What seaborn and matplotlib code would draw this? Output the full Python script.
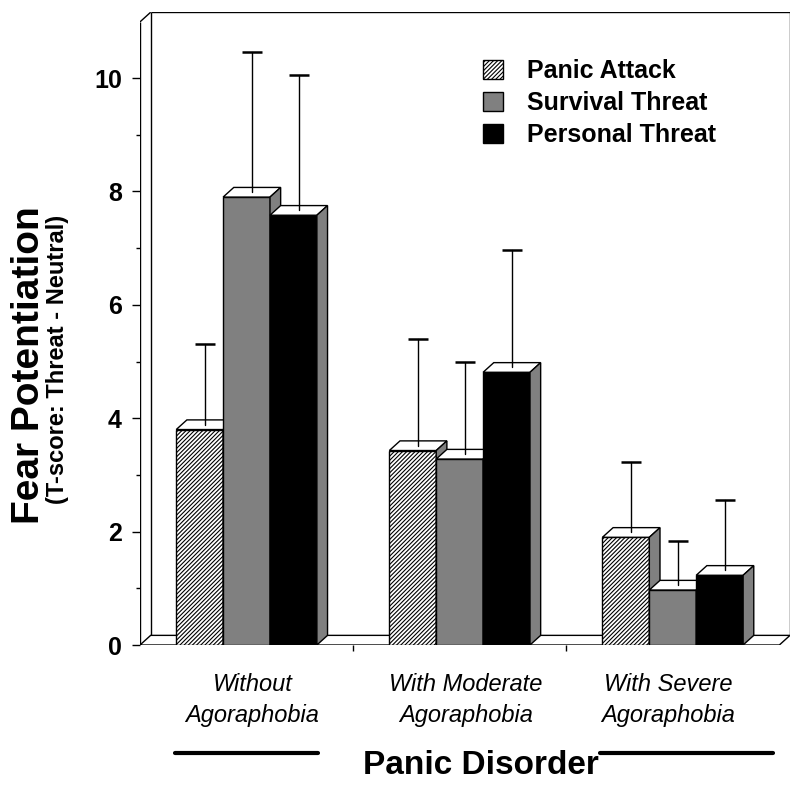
"""
Fear potentiation by agoraphobia severity in panic disorder.

Grouped 3D-style column chart (Excel look) drawn with seaborn barplot,
with the depth faces, floor and walls added on top with matplotlib.
"""

import matplotlib

matplotlib.use("Agg")

import matplotlib.pyplot as plt
import matplotlib.transforms as mtransforms
import pandas as pd
import seaborn as sns
from matplotlib.lines import Line2D
from matplotlib.patches import Patch, Polygon


# -----------------------------
# 1. Chart data
# -----------------------------

GROUPS = ["Without\nAgoraphobia", "With Moderate\nAgoraphobia", "With Severe\nAgoraphobia"]
CONDITIONS = ["Panic Attack", "Survival Threat", "Personal Threat"]

PANIC_ATTACK = [3.80, 3.43, 1.90]
SURVIVAL_THREAT = [7.90, 3.28, 0.97]
PERSONAL_THREAT = [7.58, 4.81, 1.23]

# Upper error bars (only the + side is drawn in the figure).
PANIC_ATTACK_ERR = [1.50, 1.96, 1.32]
SURVIVAL_THREAT_ERR = [2.56, 1.71, 0.87]
PERSONAL_THREAT_ERR = [2.47, 2.16, 1.32]

Y_TICKS = [0, 2, 4, 6, 8, 10]
Y_MINOR_TICKS = [1, 3, 5, 7, 9]

Y_LABEL = "Fear Potentiation"
Y_SUBLABEL = "(T-score: Threat - Neutral)"
X_LABEL = "Panic Disorder"


# -----------------------------
# 2. Style settings
# -----------------------------

FILL_COLORS = {"Panic Attack": "#FFFFFF", "Survival Threat": "#808080", "Personal Threat": "#000000"}
SIDE_GRAY = "#808080"
HATCH = "////////"

# Depth of the fake 3D effect, in data units.
DX = 0.05
DY = 0.17
Y_TOP = 11.16
X_LEFT = -0.5
X_RIGHT = 2.5 + DX

# small horizontal nudges (pixels) of the group labels, as in the original
LABEL_NUDGE_PX = [6, 6, -5]

FONT = ["Liberation Sans", "DejaVu Sans"]


def build_table() -> pd.DataFrame:
    """Long format table that seaborn can use directly."""
    rows = []
    series = {
        "Panic Attack": (PANIC_ATTACK, PANIC_ATTACK_ERR),
        "Survival Threat": (SURVIVAL_THREAT, SURVIVAL_THREAT_ERR),
        "Personal Threat": (PERSONAL_THREAT, PERSONAL_THREAT_ERR),
    }
    for condition in CONDITIONS:
        values, errors = series[condition]
        for group, value, err in zip(GROUPS, values, errors):
            rows.append({"group": group, "condition": condition, "value": value, "err": err})
    return pd.DataFrame(rows)


def draw_box(ax: plt.Axes) -> None:
    """Floor, left wall and back wall lines of the 3D frame."""
    floor = Polygon(
        [(X_LEFT, 0), (2.5, 0), (2.5 + DX, DY), (X_LEFT + DX, DY)],
        closed=True, facecolor="white", edgecolor="black", lw=1, zorder=1.5,
    )
    ax.add_patch(floor)

    line_kw = dict(color="black", lw=1, zorder=1.2, solid_capstyle="butt")
    # left wall (front edge, back edge and slanted top)
    ax.plot([X_LEFT, X_LEFT], [0, Y_TOP - DY], **line_kw)
    ax.plot([X_LEFT + DX, X_LEFT + DX], [DY, Y_TOP], **line_kw)
    ax.plot([X_LEFT, X_LEFT + DX], [Y_TOP - DY, Y_TOP], **line_kw)
    # back wall
    ax.plot([X_LEFT + DX, X_RIGHT], [Y_TOP, Y_TOP], **line_kw)
    ax.plot([X_RIGHT, X_RIGHT], [DY, Y_TOP], **line_kw)


def add_depth(ax: plt.Axes, bar, zorder: float) -> None:
    """Add a white top face and a gray side face to one bar."""
    x0 = bar.get_x()
    w = bar.get_width()
    h = bar.get_height()

    top = Polygon(
        [(x0, h), (x0 + w, h), (x0 + w + DX, h + DY), (x0 + DX, h + DY)],
        closed=True, facecolor="white", edgecolor="black", lw=1, zorder=zorder,
    )
    side = Polygon(
        [(x0 + w, 0), (x0 + w, h), (x0 + w + DX, h + DY), (x0 + w + DX, DY)],
        closed=True, facecolor=SIDE_GRAY, edgecolor="black", lw=1, zorder=zorder,
    )
    bar.set_zorder(zorder)
    ax.add_patch(top)
    ax.add_patch(side)


def add_upper_error(ax: plt.Axes, bar, err: float) -> None:
    """One-sided error bar starting in the middle of the top face."""
    xc = bar.get_x() + bar.get_width() / 2 + DX / 2
    y0 = bar.get_height() + DY / 2
    y1 = bar.get_height() + err
    ax.plot([xc, xc], [y0, y1], color="black", lw=1, zorder=10)
    ax.plot([xc], [y1], marker="_", markersize=15, markeredgewidth=1.8,
            color="black", zorder=10)


def main() -> None:
    sns.set_style("ticks")
    plt.rcParams["font.family"] = FONT
    plt.rcParams["hatch.linewidth"] = 0.8
    for key in ["text.color", "axes.labelcolor", "xtick.color", "ytick.color"]:
        plt.rcParams[key] = "black"

    table = build_table()

    fig = plt.figure(figsize=(8, 7.89), dpi=100)
    ax = fig.add_axes([0.175, 0.1825, 0.8125, 0.802])

    sns.barplot(
        data=table, x="group", y="value", hue="condition",
        order=GROUPS, hue_order=CONDITIONS, palette=FILL_COLORS,
        width=0.66, errorbar=None, saturation=1,
        edgecolor="black", linewidth=1, legend=False, ax=ax,
    )

    # hatch for the panic attack bars
    for bar in ax.containers[0]:
        bar.set_hatch(HATCH)

    # depth faces; later bars (further right) sit on top of earlier ones
    all_bars = []
    for condition, container in zip(CONDITIONS, ax.containers):
        sub = table[table["condition"] == condition].set_index("group").loc[GROUPS]
        for bar, err in zip(container, sub["err"]):
            all_bars.append((bar, err))
    all_bars.sort(key=lambda item: item[0].get_x())

    for k, (bar, err) in enumerate(all_bars):
        add_depth(ax, bar, zorder=3 + 0.1 * k)
        add_upper_error(ax, bar, err)

    draw_box(ax)

    ax.set_xlim(X_LEFT, X_RIGHT)
    ax.set_ylim(0, Y_TOP)
    for spine in ax.spines.values():
        spine.set_visible(False)

    ax.set_yticks(Y_TICKS)
    ax.set_yticks(Y_MINOR_TICKS, minor=True)
    ax.set_yticklabels([str(t) for t in Y_TICKS], fontsize=18, fontweight="bold")
    ax.tick_params(axis="y", which="major", length=6, width=1, pad=7, color="black")
    ax.tick_params(axis="y", which="minor", length=3, width=1, color="black")

    ax.set_xticks(range(len(GROUPS)))
    ax.set_xticklabels(GROUPS, fontsize=17, fontstyle="italic", linespacing=1.45)
    ax.set_xticks([0.5, 1.5], minor=True)
    ax.tick_params(axis="x", which="major", length=0, pad=20)
    ax.tick_params(axis="x", which="minor", length=4, width=1, color="black")
    for label, nudge in zip(ax.get_xticklabels(), LABEL_NUDGE_PX):
        offset = mtransforms.ScaledTranslation(nudge / 100, 0, fig.dpi_scale_trans)
        label.set_transform(label.get_transform() + offset)
    ax.set_xlabel("")
    ax.set_ylabel("")

    # axis titles
    fig.text(29 / 800, 1 - 365 / 789, Y_LABEL, rotation=90, ha="center", va="center",
             fontsize=28, fontweight="bold")
    fig.text(58 / 800, 1 - 359 / 789, Y_SUBLABEL, rotation=90, ha="center", va="center",
             fontsize=17, fontweight="bold")
    fig.text(481 / 800, 1 - 765 / 789, X_LABEL, ha="center", va="center",
             fontsize=24, fontweight="bold")
    y_rule = 1 - 753 / 789
    fig.add_artist(Line2D([175 / 800, 318 / 800], [y_rule, y_rule], color="black", lw=3))
    fig.add_artist(Line2D([600 / 800, 773 / 800], [y_rule, y_rule], color="black", lw=3))

    # legend
    handles = [
        Patch(facecolor=FILL_COLORS[c], edgecolor="black", hatch=HATCH if i == 0 else None,
              label=c)
        for i, c in enumerate(CONDITIONS)
    ]
    fig.legend(
        handles=handles, loc="upper left", bbox_to_anchor=(483 / 800, 1 - 59 / 789),
        frameon=False, prop={"size": 18, "weight": "bold"},
        handlelength=0.8, handleheight=0.8, handletextpad=0.95,
        labelspacing=0.32, borderpad=0, borderaxespad=0,
    )

    fig.savefig("out.png", dpi=100, facecolor="white")


if __name__ == "__main__":
    main()
